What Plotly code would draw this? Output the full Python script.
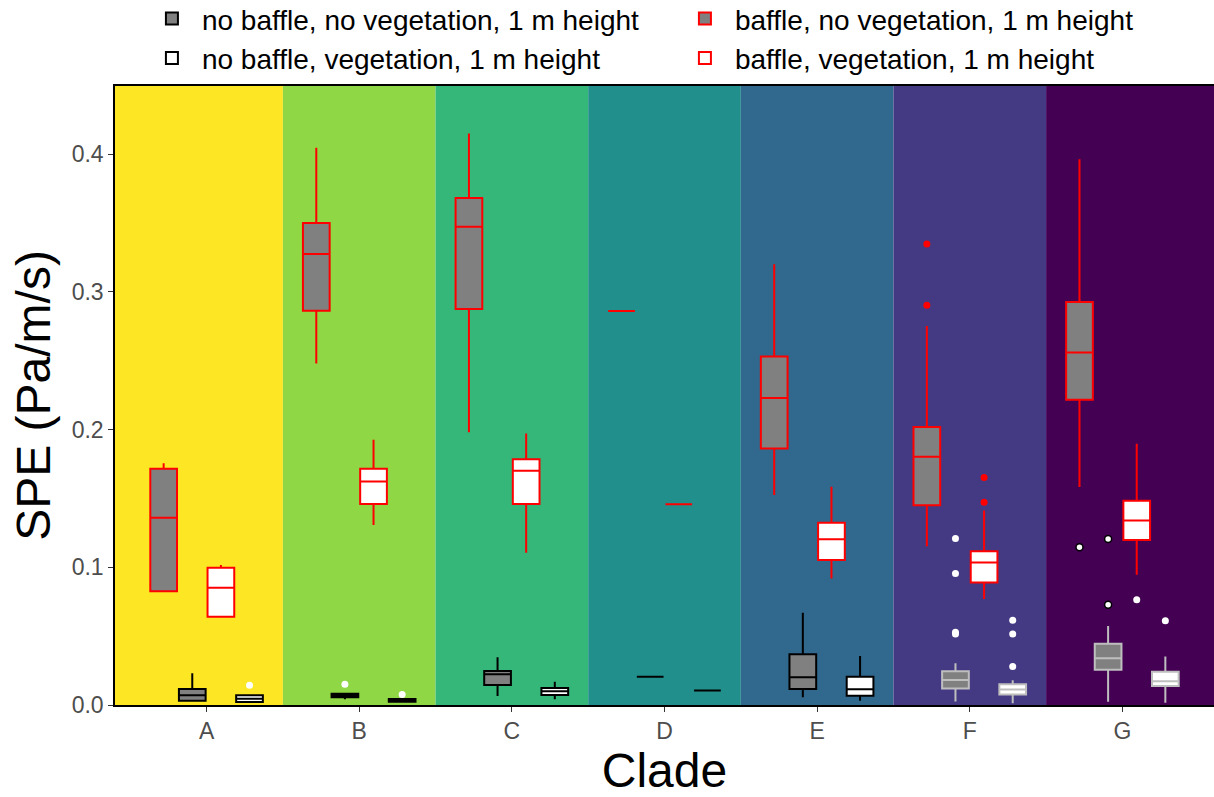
import plotly.graph_objects as go

# Clades on the x axis
clades = ["A", "B", "C", "D", "E", "F", "G"]
band_colors = ["#FDE725", "#8FD744", "#35B779", "#21908C", "#31688E", "#443A83", "#440154"]

# Box statistics per series (one value per clade): lower whisker, Q1, median, Q3, upper whisker
nbnv_lo  = [0.0024, 0.0041, 0.0065, 0.0206, 0.0056, 0.0026, 0.0024]
nbnv_q1  = [0.0031, 0.0056, 0.0145, 0.0206, 0.0116, 0.0119, 0.0256]
nbnv_med = [0.0070, 0.0068, 0.0223, 0.0206, 0.0201, 0.0182, 0.0339]
nbnv_q3  = [0.0116, 0.0082, 0.0247, 0.0206, 0.0368, 0.0245, 0.0445]
nbnv_hi  = [0.0230, 0.0082, 0.0346, 0.0206, 0.0670, 0.0303, 0.0573]

bnv_lo  = [0.0826, 0.2480, 0.1980, 0.2860, 0.1524, 0.1153, 0.1583]
bnv_q1  = [0.0826, 0.2863, 0.2875, 0.2860, 0.1863, 0.1451, 0.2216]
bnv_med = [0.1359, 0.3274, 0.3473, 0.2860, 0.2228, 0.1802, 0.2559]
bnv_q3  = [0.1715, 0.3500, 0.3680, 0.2860, 0.2531, 0.2018, 0.2926]
bnv_hi  = [0.1755, 0.4045, 0.4150, 0.2860, 0.3200, 0.2752, 0.3963]

nbv_lo  = [0.0022, 0.0024, 0.0041, 0.0106, 0.0031, 0.0013, 0.0017]
nbv_q1  = [0.0022, 0.0024, 0.0073, 0.0106, 0.0068, 0.0077, 0.0138]
nbv_med = [0.0046, 0.0033, 0.0099, 0.0106, 0.0114, 0.0113, 0.0172]
nbv_q3  = [0.0070, 0.0043, 0.0123, 0.0106, 0.0206, 0.0150, 0.0242]
nbv_hi  = [0.0070, 0.0043, 0.0169, 0.0106, 0.0356, 0.0179, 0.0353]

bv_lo  = [0.0641, 0.1306, 0.1106, 0.1457, 0.0919, 0.0770, 0.0945]
bv_q1  = [0.0641, 0.1459, 0.1459, 0.1457, 0.1052, 0.0889, 0.1198]
bv_med = [0.0852, 0.1623, 0.1701, 0.1457, 0.1203, 0.1034, 0.1340]
bv_q3  = [0.0997, 0.1715, 0.1784, 0.1457, 0.1323, 0.1116, 0.1483]
bv_hi  = [0.1016, 0.1926, 0.1972, 0.1457, 0.1585, 0.1412, 0.1897]

# Outliers: (clade, value)
nbnv_out = [("B", 0.0150), ("F", 0.1208), ("F", 0.0955), ("F", 0.0528), ("F", 0.0515)]
nbnv_out_ring = [("G", 0.1206), ("G", 0.0728)]
bnv_out = [("F", 0.3346), ("F", 0.2902)]
bnv_out_ring = [("G", 0.1145)]
nbv_out = [("A", 0.0143), ("B", 0.0077), ("F", 0.0615), ("F", 0.0515), ("F", 0.0280), ("G", 0.0612)]
bv_out = [("F", 0.1652), ("F", 0.1472)]
bv_out_white = [("G", 0.0765)]

# Outline colour of the no-baffle boxes in each clade
nb_line = ["black", "black", "black", "black", "black", "#BEBEBE", "#BEBEBE"]

series = [
    # name, stats, fill, line colours, dodge offset, legend rank
    ("no baffle, no vegetation, 1 m height", (nbnv_lo, nbnv_q1, nbnv_med, nbnv_q3, nbnv_hi), "#808080", nb_line, -0.09375, 1),
    ("baffle, no vegetation, 1 m height", (bnv_lo, bnv_q1, bnv_med, bnv_q3, bnv_hi), "#808080", ["red"] * 7, -0.28125, 2),
    ("no baffle, vegetation, 1 m height", (nbv_lo, nbv_q1, nbv_med, nbv_q3, nbv_hi), "white", nb_line, 0.28125, 3),
    ("baffle, vegetation, 1 m height", (bv_lo, bv_q1, bv_med, bv_q3, bv_hi), "white", ["red"] * 7, 0.09375, 4),
]

fig = go.Figure()

box_w = 0.175
for name, (lo, q1, med, q3, hi), fill, lines, off, rank in series:
    for i, c in enumerate(clades):
        fig.add_trace(go.Box(
            x=[i + 1 + off], lowerfence=[lo[i]], q1=[q1[i]], median=[med[i]],
            q3=[q3[i]], upperfence=[hi[i]],
            width=box_w, whiskerwidth=0, boxpoints=False,
            fillcolor=fill, line=dict(color=lines[i], width=2),
            name=name, legendgroup=name, legendrank=rank,
            showlegend=(i == 0), hoverinfo="skip",
        ))

offsets = {"nbnv": -0.09375, "bnv": -0.28125, "nbv": 0.28125, "bv": 0.09375}


def add_points(pts, off, color, ring=None):
    xs = [clades.index(c) + 1 + off for c, _ in pts]
    ys = [v for _, v in pts]
    fig.add_trace(go.Scatter(
        x=xs, y=ys, mode="markers", showlegend=False, hoverinfo="skip",
        marker=dict(size=7, color=color,
                    line=dict(color=ring or color, width=1.5 if ring else 0)),
    ))


add_points(nbnv_out, offsets["nbnv"], "white")
add_points(nbnv_out_ring, offsets["nbnv"], "white", ring="black")
add_points(bnv_out, offsets["bnv"], "red")
add_points(bnv_out_ring, offsets["bnv"], "white", ring="black")
add_points(nbv_out, offsets["nbv"], "white")
add_points(bv_out, offsets["bv"], "red")
add_points(bv_out_white, offsets["bv"], "white")

# Clade background bands
shapes = []
for i, col in enumerate(band_colors):
    x0 = i + 0.5 if i > 0 else 0.0
    x1 = i + 1.5 if i < len(clades) - 1 else 9.0
    shapes.append(dict(type="rect", xref="x", yref="paper", x0=x0, x1=x1, y0=0, y1=1,
                       fillcolor=col, line=dict(width=0), layer="below"))

fig.update_layout(
    width=1214, height=797,
    margin=dict(l=115, r=0, t=86, b=92, autoexpand=False),
    paper_bgcolor="white", plot_bgcolor="white",
    font=dict(family="Liberation Sans, Arial, sans-serif", color="black"),
    shapes=shapes,
    showlegend=True,
    legend=dict(orientation="h", x=0.0245, xanchor="left", y=1.005, yanchor="bottom",
                entrywidth=468, entrywidthmode="pixels", itemwidth=50,
                font=dict(size=28, color="black"), traceorder="normal",
                bgcolor="rgba(0,0,0,0)"),
    xaxis=dict(range=[0.4, 7.6], tickvals=list(range(1, 8)), ticktext=clades,
               showgrid=False, zeroline=False, showline=True, linecolor="black",
               linewidth=1.5, mirror=True, ticks="outside", ticklen=5, tickcolor="#333333",
               tickfont=dict(size=23, color="#4D4D4D"),
               title=dict(text="Clade", font=dict(size=48, color="black"), standoff=8)),
    yaxis=dict(range=[0, 0.4494], tickvals=[0, 0.1, 0.2, 0.3, 0.4],
               ticktext=["0.0", "0.1", "0.2", "0.3", "0.4"],
               showgrid=False, zeroline=False, showline=True, linecolor="black",
               linewidth=1.5, mirror=True, ticks="outside", ticklen=5, tickcolor="#333333",
               tickfont=dict(size=23, color="#4D4D4D"),
               title=dict(text="SPE (Pa/m/s)", font=dict(size=48, color="black"), standoff=6)),
)

fig.write_html("out.html")
